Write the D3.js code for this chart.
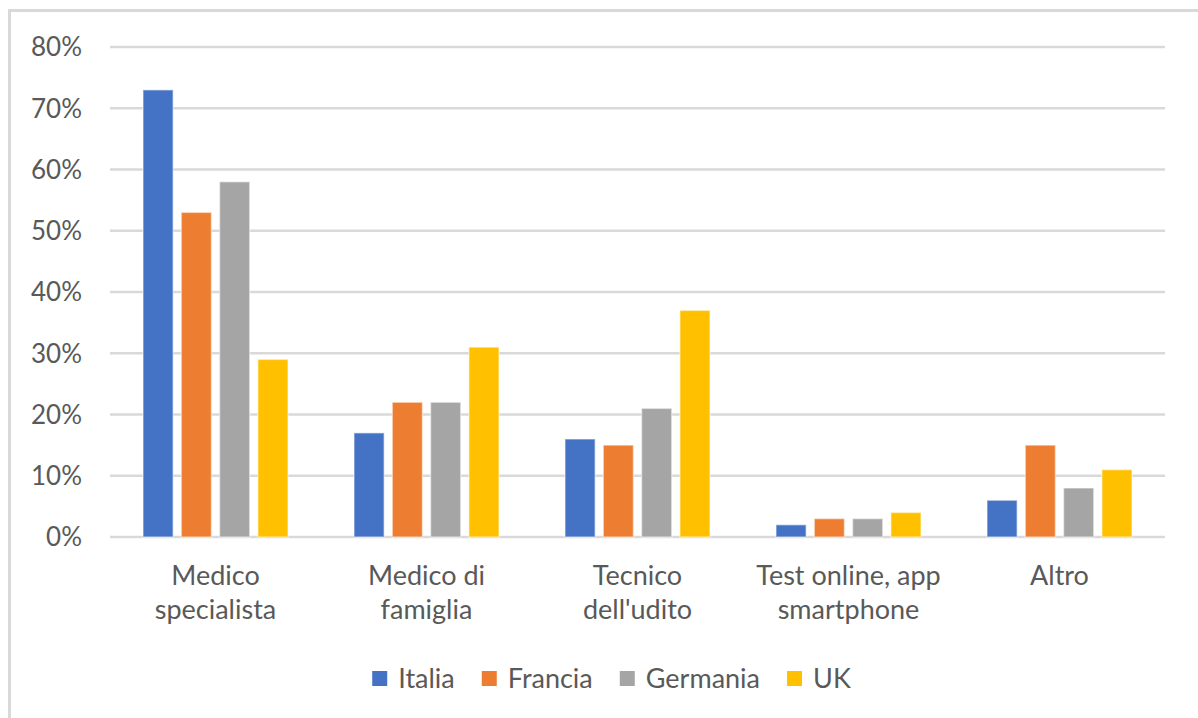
<!DOCTYPE html>
<html>
<head>
<meta charset="utf-8">
<script src="https://cdn.jsdelivr.net/npm/d3@7"></script>
<style>
  html, body { margin: 0; padding: 0; background: #fff; }
  svg { display: block; }
  text { font-family: Lato, "Open Sans", sans-serif; fill: #595959; }
</style>
</head>
<body>
<svg id="chart" width="1198" height="718"></svg>
<script>
const categories = [["Medico", "specialista"], ["Medico di", "famiglia"], ["Tecnico", "dell'udito"], ["Test online, app", "smartphone"], ["Altro"]];
const series = ["Italia", "Francia", "Germania", "UK"];
const colors = ["#4472C4", "#ED7D31", "#A5A5A5", "#FFC000"];
const italia   = [0.73, 0.17, 0.16, 0.02, 0.06];
const francia  = [0.53, 0.22, 0.15, 0.03, 0.15];
const germania = [0.58, 0.22, 0.21, 0.03, 0.08];
const uk       = [0.29, 0.31, 0.37, 0.04, 0.11];
const yTicks = [0, 0.1, 0.2, 0.3, 0.4, 0.5, 0.6, 0.7, 0.8];

(function () {
const values = [italia, francia, germania, uk];
const catKeys = categories.map(c => c.join(" "));

const svg = d3.select("#chart");

// outer border
svg.append("rect")
  .attr("x", 9.5).attr("y", 10.5)
  .attr("width", 1300).attr("height", 800)
  .attr("fill", "none").attr("stroke", "#D9D9D9").attr("stroke-width", 3);

const pLeft = 110, pRight = 1165, pTop = 47, pBottom = 537;

const y = d3.scaleLinear().domain([0, 0.8]).range([pBottom, pTop]);
const x0 = d3.scaleBand().domain(catKeys).range([pLeft, pRight]).padding(0);
const x1 = d3.scaleBand().domain(series).range([0, x0.bandwidth()])
  .paddingInner(0.2126).paddingOuter(0.862);

// gridlines
svg.append("g").selectAll("line").data(yTicks).join("line")
  .attr("x1", pLeft).attr("x2", pRight)
  .attr("y1", d => y(d)).attr("y2", d => y(d))
  .attr("stroke", "#D9D9D9").attr("stroke-width", 2.5);

// y labels
svg.append("g").selectAll("text").data(yTicks).join("text")
  .attr("x", 82).attr("y", d => y(d))
  .attr("dy", "0.36em")
  .attr("text-anchor", "end")
  .style("font-size", "26px")
  .text(d => d3.format(".0%")(d));

// bars
const groups = svg.append("g").selectAll("g").data(catKeys).join("g")
  .attr("transform", d => `translate(${x0(d)},0)`);

groups.selectAll("rect")
  .data((d, i) => series.map((s, j) => ({ s, j, v: values[j][i] })))
  .join("rect")
  .attr("x", d => x1(d.s))
  .attr("width", x1.bandwidth())
  .attr("y", d => y(d.v))
  .attr("height", d => y(0) - y(d.v))
  .attr("fill", d => colors[d.j])
  .attr("stroke", "#ffffff").attr("stroke-opacity", 0.45).attr("stroke-width", 1.5);

// category labels
const catG = svg.append("g").selectAll("text").data(categories).join("text")
  .attr("text-anchor", "middle")
  .style("font-size", "27px")
  .attr("transform", (d, i) => `translate(${x0(catKeys[i]) + x0.bandwidth() / 2},585)`);
catG.selectAll("tspan").data(d => d).join("tspan")
  .attr("x", 0).attr("y", (d, i) => i * 34)
  .text(d => d);

// legend
const legend = svg.append("g");
const items = legend.selectAll("g").data(series).join("g");
items.append("rect")
  .attr("width", 15).attr("height", 15)
  .attr("y", 671)
  .attr("fill", (d, i) => colors[i]);
items.append("text")
  .attr("x", 26).attr("y", 688)
  .style("font-size", "27px")
  .text(d => d);
const widths = [];
items.each(function () {
  widths.push(26 + this.querySelector("text").getComputedTextLength());
});
const gap = 27;
const total = d3.sum(widths) + gap * (widths.length - 1);
let start = 611.5 - total / 2;
items.attr("transform", (d, i) => {
  const t = `translate(${start},0)`;
  start += widths[i] + gap;
  return t;
});
})();
</script>
</body>
</html>
